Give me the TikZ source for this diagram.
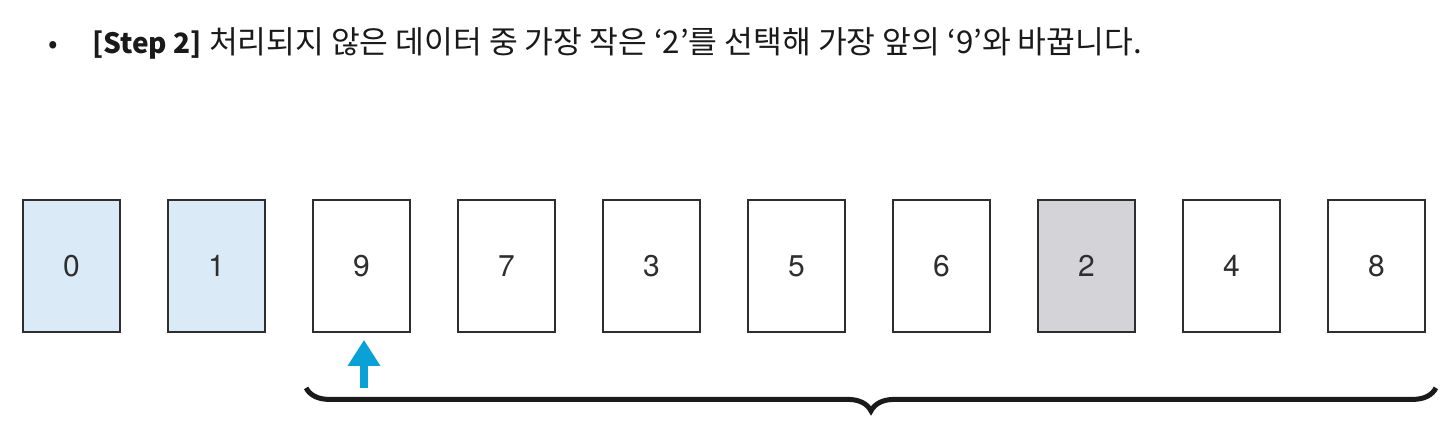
\documentclass[tikz,border=0pt]{standalone}
\usepackage{fontspec}
\setmainfont{Noto Sans CJK KR}
\newfontfamily\cardfont{TeX Gyre Heros}
\usetikzlibrary{arrows.meta,decorations.pathreplacing}
\definecolor{doneblue}{HTML}{DAEAF7}
\definecolor{pickgray}{HTML}{D4D3D8}
\definecolor{edgegray}{HTML}{2E2E2E}
\definecolor{pointblue}{HTML}{0AA1D6}
\definecolor{inkblack}{HTML}{1A1A1A}
\begin{document}
\begin{tikzpicture}[x=1pt,y=-1pt,
  card/.style={draw=edgegray,line width=1.8pt,minimum width=97pt,minimum height=132pt,inner sep=0pt,font=\cardfont\fontsize{30}{30}\selectfont,text=edgegray},
  pointer/.style={draw=pointblue,line width=8pt,-{Triangle[width=31pt,length=26pt]},shorten >=7pt},
  bracket/.style={draw=inkblack,line width=5pt,decorate,decoration={brace,mirror,amplitude=23pt}}]
\useasboundingbox (0,0) rectangle (1450,421);
\node[anchor=base,text=inkblack,font=\fontsize{28}{28}\selectfont] (dot) at (53,53) {•};
\node[anchor=base west,inner sep=0pt,text=inkblack,font=\fontsize{31.3}{31.3}\selectfont] (title) at (92,53) {{\fontsize{28}{28}\selectfont\textbf{[Step 2]}} 처리되지 않은 데이터 중 가장 작은 ‘2’를 선택해 가장 앞의 ‘9’와 바꿉니다.};
\node[card,fill=doneblue] (c0) at (71.5,266) {0};
\node[card,fill=doneblue] (c1) at (216.5,266) {1};
\node[card,fill=white] (c2) at (361.5,266) {9};
\node[card,fill=white] (c3) at (506.5,266) {7};
\node[card,fill=white] (c4) at (651.5,266) {3};
\node[card,fill=white] (c5) at (796.5,266) {5};
\node[card,fill=white] (c6) at (941.5,266) {6};
\node[card,fill=pickgray] (c7) at (1086.5,266) {2};
\node[card,fill=white] (c8) at (1231.5,266) {4};
\node[card,fill=white] (c9) at (1376.5,266) {8};
\coordinate (foot) at ([xshift=2.5pt,yshift=-55pt]c2.south);
\draw[pointer] (foot) -- (foot |- c2.south);
\coordinate (bl) at ([xshift=-6pt,yshift=-55pt]c2.south west);
\coordinate (br) at ([xshift=10pt,yshift=-55pt]c9.south east);
\draw[bracket] (bl) -- (br);
\end{tikzpicture}
\end{document}
